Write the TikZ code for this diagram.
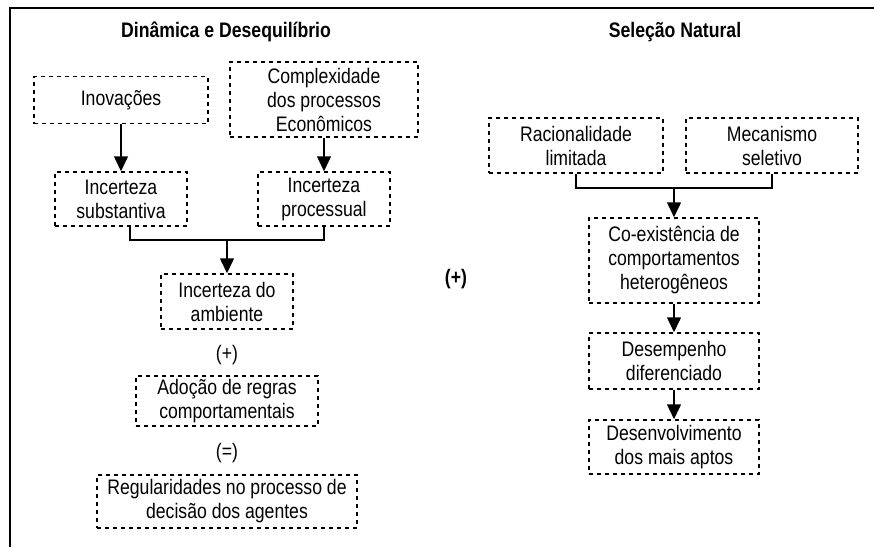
\documentclass[tikz,border=0pt]{standalone}
\usepackage{fontspec}
\setmainfont{Liberation Sans}[FakeStretch=0.84]
\usetikzlibrary{arrows.meta}
\tikzset{
	box/.style={draw=black,dash pattern=on 4pt off 4pt,line width=1.5pt,align=center,inner sep=0pt,font=\fontsize{21}{24}\selectfont},
	label/.style={align=center,font=\fontsize{21}{24}\selectfont},
	seta/.style={black,line width=1.5pt,-{Triangle[length=15pt,width=14pt]}},
	liga/.style={black,line width=1.5pt}
}

\begin{document}
\begin{tikzpicture}[x=1pt,y=-1pt]
	\useasboundingbox (0,0) rectangle (874,547);
	\draw[line width=2.5pt] (10,547) -- (10,8) -- (874,8);

	\node[label,font=\fontsize{21}{24}\selectfont\bfseries] (t1) at (226,32) {Dinâmica e Desequilíbrio};
	\node[label,font=\fontsize{21}{24}\selectfont\bfseries] (t2) at (675,32) {Seleção Natural};

	\node[box,minimum width=174pt,minimum height=47pt] (inov) at (121,100) {Inovações};
	\node[box,minimum width=188pt,minimum height=75pt] (compl) at (324,99.5) {Complexidade\\dos processos\\Econômicos};
	\node[box,minimum width=132pt,minimum height=54pt] (subst) at (121,199) {Incerteza\\substantiva};
	\node[box,minimum width=132pt,minimum height=54pt] (proc) at (324,199) {Incerteza\\processual};
	\node[box,minimum width=132pt,minimum height=55pt] (amb) at (227,301.5) {Incerteza do\\ambiente};
	\node[label] (mais1) at (227,355) {(+)};
	\node[box,minimum width=182pt,minimum height=50pt] (adoc) at (227,401) {Adoção de regras\\comportamentais};
	\node[label] (igual) at (227,453) {(=)};
	\node[box,minimum width=260pt,minimum height=53pt] (regul) at (227,501.5) {Regularidades no processo de\\decisão dos agentes};

	\node[label,font=\fontsize{21}{24}\selectfont\bfseries] (mais2) at (456,279) {(+)};

	\node[box,minimum width=174pt,minimum height=55pt] (racio) at (576,145.5) {Racionalidade\\limitada};
	\node[box,minimum width=172pt,minimum height=55pt] (mecan) at (772,145.5) {Mecanismo\\seletivo};
	\node[box,minimum width=170pt,minimum height=85pt] (coex) at (674,260.5) {Co-existência de\\comportamentos\\heterogêneos};
	\node[box,minimum width=170pt,minimum height=56pt] (desemp) at (674,361) {Desempenho\\diferenciado};
	\node[box,minimum width=170pt,minimum height=54pt] (desenv) at (674,447) {Desenvolvimento\\dos mais aptos};

	\coordinate (j1) at (227,240);
	\coordinate (j2) at (674,188);
	\draw[liga] ([xshift=9pt]subst.south) |- (j1) -| (proc.south);
	\draw[liga] (racio.south) |- (j2) -| (mecan.south);

	\foreach \x/\y in {inov/subst,compl/proc,j1/amb,j2/coex,coex/desemp,desemp/desenv}
		\draw[seta] (\x) -- (\y);
\end{tikzpicture}
\end{document}
